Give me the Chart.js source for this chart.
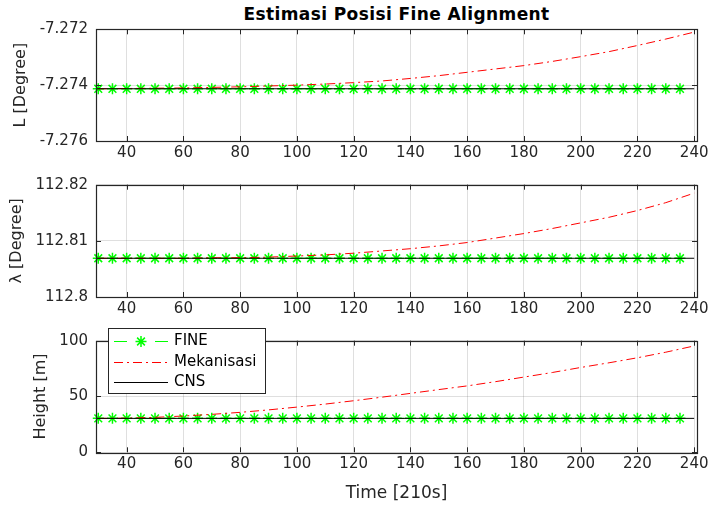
<!DOCTYPE html>
<html>
<head>
<meta charset="utf-8">
<script src="https://cdn.jsdelivr.net/npm/chart.js@4"></script>
<style>
body { margin: 0; background: #fff; width: 714px; height: 509px; position: relative; overflow: hidden; font-family: 'DejaVu Sans', sans-serif; }
canvas { position: absolute; left: 0; }
#title { position: absolute; left: 96px; width: 601px; top: 4px; text-align: center; font-weight: bold; font-size: 17px; letter-spacing: 0.4px; color: #000; }
</style>
</head>
<body>
<div id="title">Estimasi Posisi Fine Alignment</div>
<canvas id="c1" width="714" height="165" style="top:0px"></canvas>
<canvas id="c2" width="714" height="155" style="top:165px"></canvas>
<canvas id="c3" width="714" height="189" style="top:320px"></canvas>
<script>
// x axis (time)
var xTicks = [40, 60, 80, 100, 120, 140, 160, 180, 200, 220, 240];

// FINE samples (every 5 s)
var fineTime = [30, 35, 40, 45, 50, 55, 60, 65, 70, 75, 80, 85, 90, 95, 100, 105, 110, 115, 120, 125, 130, 135,
                140, 145, 150, 155, 160, 165, 170, 175, 180, 185, 190, 195, 200, 205, 210, 215, 220, 225, 230, 235];
var fineL = [-7.27413, -7.27413, -7.27413, -7.27413, -7.27413, -7.27413, -7.27413, -7.27413, -7.27413, -7.27413, -7.27413,
             -7.27413, -7.27413, -7.27413, -7.27413, -7.27413, -7.27413, -7.27413, -7.27413, -7.27413, -7.27413,
             -7.27413, -7.27413, -7.27413, -7.27413, -7.27413, -7.27413, -7.27413, -7.27413, -7.27413, -7.27413,
             -7.27413, -7.27413, -7.27413, -7.27413, -7.27413, -7.27413, -7.27413, -7.27413, -7.27413, -7.27413, -7.27413];
var fineLon = [112.8069, 112.8069, 112.8069, 112.8069, 112.8069, 112.8069, 112.8069, 112.8069, 112.8069, 112.8069, 112.8069,
               112.8069, 112.8069, 112.8069, 112.8069, 112.8069, 112.8069, 112.8069, 112.8069, 112.8069, 112.8069,
               112.8069, 112.8069, 112.8069, 112.8069, 112.8069, 112.8069, 112.8069, 112.8069, 112.8069, 112.8069,
               112.8069, 112.8069, 112.8069, 112.8069, 112.8069, 112.8069, 112.8069, 112.8069, 112.8069, 112.8069, 112.8069];
var fineH = [30.4, 30.4, 30.4, 30.4, 30.4, 30.4, 30.4, 30.4, 30.4, 30.4, 30.4, 30.4, 30.4, 30.4,
             30.4, 30.4, 30.4, 30.4, 30.4, 30.4, 30.4, 30.4, 30.4, 30.4, 30.4, 30.4, 30.4, 30.4,
             30.4, 30.4, 30.4, 30.4, 30.4, 30.4, 30.4, 30.4, 30.4, 30.4, 30.4, 30.4, 30.4, 30.4];

// Mekanisasi (drifting solution)
var mekTime = [30, 40, 50, 60, 70, 80, 90, 100, 110, 120, 130, 140, 150, 160, 170, 180, 190, 200, 210, 220, 230, 240];
var mekL = [-7.27413, -7.27412, -7.27411, -7.27410, -7.27408, -7.27406, -7.27403, -7.27400, -7.27396, -7.27391, -7.27385,
            -7.27376, -7.27366, -7.27354, -7.27342, -7.27330, -7.27315, -7.27298, -7.27280, -7.27258, -7.27235, -7.27210];
var mekLon = [112.8069, 112.8069, 112.8069, 112.8069, 112.8070, 112.8070, 112.8071, 112.8073, 112.8075, 112.8078, 112.8082,
              112.8086, 112.8091, 112.8097, 112.8105, 112.8113, 112.8122, 112.8132, 112.8142, 112.8154, 112.8168, 112.8185];
var mekH = [30.4, 30.6, 31.3, 32.5, 34.0, 35.8, 38.0, 40.5, 43.2, 46.2, 49.4,
            52.8, 56.2, 59.5, 63.3, 67.4, 71.5, 76.0, 80.2, 84.7, 89.7, 95.3];

// CNS reference
var cnsTime = [29, 240];
var cnsL = [-7.27413, -7.27413];
var cnsLon = [112.8069, 112.8069];
var cnsH = [30.4, 30.4];

// y ticks
var lTicks = [-7.276, -7.274, -7.272];
var lTickLabels = ['-7.276', '-7.274', '-7.272'];
var lonTicks = [112.8, 112.81, 112.82];
var lonTickLabels = ['112.8', '112.81', '112.82'];
var hTicks = [0, 50, 100];
var hTickLabels = ['0', '50', '100'];

var legendLabels = ['FINE', 'Mekanisasi', 'CNS'];

var FONT = "'DejaVu Sans', sans-serif";
var TXT = '#262626';
var GRID = 'rgba(38,38,38,0.15)';

function pts(xs, ys) {
    return xs.map(function (x, i) { return { x: x, y: ys[i] }; });
}

// MATLAB style box with inward ticks
var boxPlugin = {
    id: 'box',
    afterDatasetsDraw: function (chart) {
        var ctx = chart.ctx, a = chart.chartArea;
        var xs = chart.scales.x, ys = chart.scales.y;
        ctx.save();
        ctx.strokeStyle = TXT;
        ctx.lineWidth = 1;
        ctx.beginPath();
        xs.ticks.forEach(function (t) {
            var px = Math.round(xs.getPixelForValue(t.value)) + 0.5;
            ctx.moveTo(px, a.bottom); ctx.lineTo(px, a.bottom - 5);
            ctx.moveTo(px, a.top); ctx.lineTo(px, a.top + 5);
        });
        ys.ticks.forEach(function (t) {
            var py = Math.round(ys.getPixelForValue(t.value)) + 0.5;
            ctx.moveTo(a.left, py); ctx.lineTo(a.left + 5, py);
            ctx.moveTo(a.right, py); ctx.lineTo(a.right - 5, py);
        });
        ctx.stroke();
        ctx.lineWidth = 1.2;
        ctx.strokeRect(Math.round(a.left) + 0.5, Math.round(a.top) + 0.5,
            Math.round(a.right - a.left), Math.round(a.bottom - a.top));
        ctx.restore();
    }
};

function star(ctx, x, y, r) {
    ctx.moveTo(x - r, y); ctx.lineTo(x + r, y);
    ctx.moveTo(x, y - r); ctx.lineTo(x, y + r);
    var d = r * 0.7071;
    ctx.moveTo(x - d, y - d); ctx.lineTo(x + d, y + d);
    ctx.moveTo(x - d, y + d); ctx.lineTo(x + d, y - d);
}

var legendPlugin = {
    id: 'legendBox',
    afterDraw: function (chart) {
        var ctx = chart.ctx, a = chart.chartArea;
        var x0 = a.left + 12.3, y0 = a.top - 13, w = 156.7, h = 65.3;
        ctx.save();
        ctx.fillStyle = '#fff';
        ctx.fillRect(x0, y0, w, h);
        ctx.strokeStyle = TXT;
        ctx.lineWidth = 1;
        ctx.strokeRect(Math.round(x0) + 0.5, Math.round(y0) + 0.5, Math.round(w), Math.round(h));
        var rows = [13.6, 34.3, 54.3];
        var l0 = x0 + 5.7, l1 = x0 + 59.7;
        // FINE
        var y = Math.round(y0 + rows[0]) + 0.5;
        ctx.strokeStyle = '#00ff00';
        ctx.setLineDash([13, 28]);
        ctx.beginPath(); ctx.moveTo(l0, y); ctx.lineTo(l1, y); ctx.stroke();
        ctx.setLineDash([]);
        ctx.lineWidth = 1.5;
        ctx.beginPath(); star(ctx, (l0 + l1) / 2, y, 5.5); ctx.stroke();
        // Mekanisasi
        y = Math.round(y0 + rows[1]) + 0.5;
        ctx.lineWidth = 1;
        ctx.strokeStyle = '#ff0000';
        ctx.setLineDash([9, 4, 2, 4]);
        ctx.beginPath(); ctx.moveTo(l0, y); ctx.lineTo(l1, y); ctx.stroke();
        ctx.setLineDash([]);
        // CNS
        y = Math.round(y0 + rows[2]) + 0.5;
        ctx.strokeStyle = '#000';
        ctx.beginPath(); ctx.moveTo(l0, y); ctx.lineTo(l1, y); ctx.stroke();
        ctx.fillStyle = '#000';
        ctx.font = '15px ' + FONT;
        ctx.textBaseline = 'middle';
        legendLabels.forEach(function (lab, i) {
            ctx.fillText(lab, x0 + 65.7, y0 + rows[i]);
        });
        ctx.restore();
    }
};

function makeChart(id, o) {
    var datasets = [
        {
            label: legendLabels[0], data: pts(fineTime, o.fine), order: 2,
            showLine: true, borderColor: '#00ff00', borderWidth: 1, borderDash: [6, 6],
            pointStyle: 'star', pointRadius: 5.5, pointBorderWidth: 1.5,
            pointBorderColor: '#00ff00', pointBackgroundColor: '#00ff00', clip: 8
        },
        {
            label: legendLabels[1], data: pts(mekTime, o.mek), order: 1,
            borderColor: '#ff0000', borderWidth: 1, borderDash: [9, 4, 2, 4], pointRadius: 0
        },
        {
            label: legendLabels[2], data: pts(cnsTime, o.cns), order: 0,
            borderColor: '#000', borderWidth: 1, pointRadius: 0
        }
    ];
    return new Chart(document.getElementById(id), {
        type: 'line',
        data: { datasets: datasets },
        plugins: o.plugins,
        options: {
            responsive: false,
            animation: false,
            events: [],
            layout: { padding: { top: o.padTop, right: 17, left: 0, bottom: 0 } },
            plugins: { legend: { display: false }, tooltip: { enabled: false } },
            scales: {
                x: {
                    type: 'linear', min: 29.2, max: 241,
                    afterBuildTicks: function (s) { s.ticks = xTicks.map(function (v) { return { value: v }; }); },
                    afterFit: function (s) { s.height = o.xHeight; },
                    grid: { color: GRID, drawTicks: false },
                    border: { display: false },
                    ticks: { font: { family: FONT, size: 15 }, color: TXT, padding: 3, maxRotation: 0, autoSkip: false },
                    title: o.xTitle ? { display: true, text: o.xTitle, color: TXT, font: { family: FONT, size: 17 }, padding: { top: 0, bottom: 5 } } : { display: false }
                },
                y: {
                    type: 'linear', min: o.yTicks[0], max: o.yTicks[o.yTicks.length - 1],
                    afterBuildTicks: function (s) { s.ticks = o.yTicks.map(function (v) { return { value: v }; }); },
                    afterFit: function (s) { s.width = 96; },
                    grid: { color: GRID, drawTicks: false },
                    border: { display: false },
                    ticks: {
                        font: { family: FONT, size: 15 }, color: TXT, padding: 8, autoSkip: false,
                        callback: function (v, i) { return o.yLabels[i]; }
                    },
                    title: { display: true, text: o.yTitle, color: TXT, font: { family: FONT, size: 16 }, padding: { top: o.yTitlePad, bottom: 0 } }
                }
            }
        }
    });
}

makeChart('c1', {
    fine: fineL, mek: mekL, cns: cnsL, yTicks: lTicks, yLabels: lTickLabels,
    yTitle: 'L [Degree]', yTitlePad: 11, padTop: 29.3, xHeight: 24, plugins: [boxPlugin]
});
makeChart('c2', {
    fine: fineLon, mek: mekLon, cns: cnsLon, yTicks: lonTicks, yLabels: lonTickLabels,
    yTitle: '\u03bb [Degree]', yTitlePad: 7, padTop: 19.7, xHeight: 23, plugins: [boxPlugin]
});
makeChart('c3', {
    fine: fineH, mek: mekH, cns: cnsH, yTicks: hTicks, yLabels: hTickLabels,
    yTitle: 'Height [m]', yTitlePad: 31, padTop: 20.7, xHeight: 56.7, xTitle: 'Time [210s]',
    plugins: [boxPlugin, legendPlugin]
});
</script>
</body>
</html>
